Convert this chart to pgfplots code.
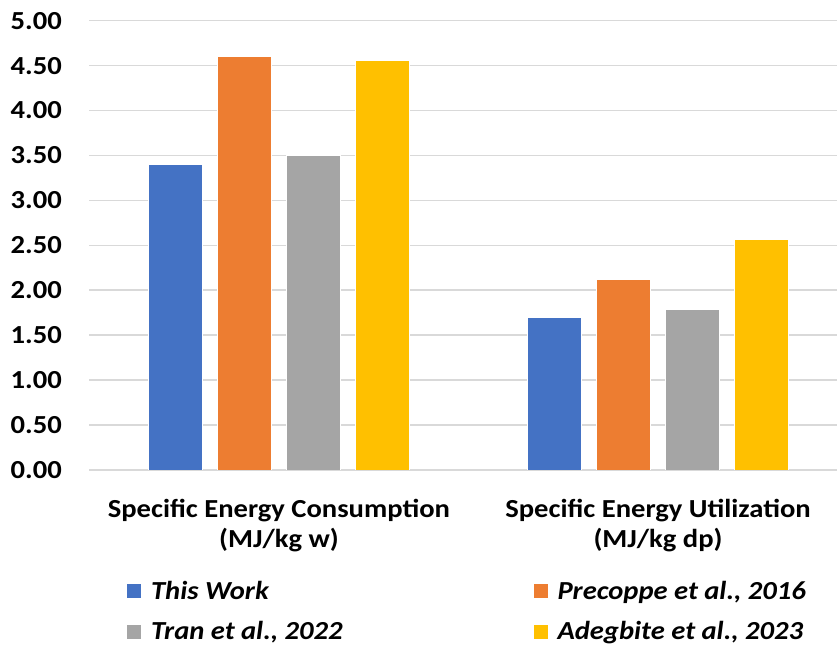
\documentclass[border=0pt]{standalone}
\usepackage{pgfplots}
\pgfplotsset{compat=1.18}
\usepackage{fontspec}
\setmainfont{Carlito}[FakeStretch=1.1]

\definecolor{cBlue}{HTML}{4472C4}
\definecolor{cOrange}{HTML}{ED7D31}
\definecolor{cGray}{HTML}{A5A5A5}
\definecolor{cGold}{HTML}{FFC000}
\definecolor{gridgray}{HTML}{D9D9D9}

\pgfplotsset{
  sqlegend/.style={legend image code/.code={\fill[##1] (0pt,-7.5pt) rectangle (15pt,7.5pt);}},
}

\begin{document}
\begin{tikzpicture}[x=1pt,y=1pt]
\useasboundingbox (0,0) rectangle (837,650);
\begin{axis}[
  at={(89pt,180pt)}, anchor=south west,
  scale only axis, width=748pt, height=449.3pt,
  xmin=-0.501, xmax=1.472, ymin=0, ymax=5,
  ybar, bar width=0.1425,
  every axis plot/.append style={sqlegend, draw=white, line width=0.8pt},
  axis line style={draw=none}, tick style={draw=none},
  ymajorgrids, major grid style={color=gridgray, line width=1.6pt},
  ytick={0,0.5,1,1.5,2,2.5,3,3.5,4,4.5,5},
  yticklabel style={font=\fontsize{26}{30}\selectfont\bfseries, inner sep=0pt, xshift=-27pt},
  yticklabel style={/pgf/number format/.cd, fixed, fixed zerofill, precision=2, assume math mode=true},
  xtick={0,1},
  xticklabels={{Specific Energy Consumption\\(MJ/kg w)},{Specific Energy Utilization\\(MJ/kg dp)}},
  xticklabel style={font=\fontsize{26}{30}\selectfont\bfseries, align=center, inner sep=0pt, yshift=-24.5pt},
  legend columns=2,
  legend style={draw=none, fill=none, inner sep=0pt, at={(0.0495,-0.242)}, anchor=north west,
    font=\fontsize{26}{30}\selectfont\bfseries\itshape,
    /tikz/every odd column/.append style={column sep=7pt},
    /tikz/every even column/.append style={column sep=188pt},
    row sep=17pt},
  legend cell align=left,
]
\addplot[fill=cBlue, bar shift=-0.273] coordinates {(0,3.40) (1,1.70)};
\addplot[fill=cOrange, bar shift=-0.091] coordinates {(0,4.60) (1,2.12)};
\addplot[fill=cGray, bar shift=0.091] coordinates {(0,3.50) (1,1.79)};
\addplot[fill=cGold, bar shift=0.273] coordinates {(0,4.56) (1,2.57)};
\legend{{This Work}, {Precoppe et al., 2016}, {Tran et al., 2022}, {Adegbite et al., 2023}}
\end{axis}
\end{tikzpicture}
\end{document}
